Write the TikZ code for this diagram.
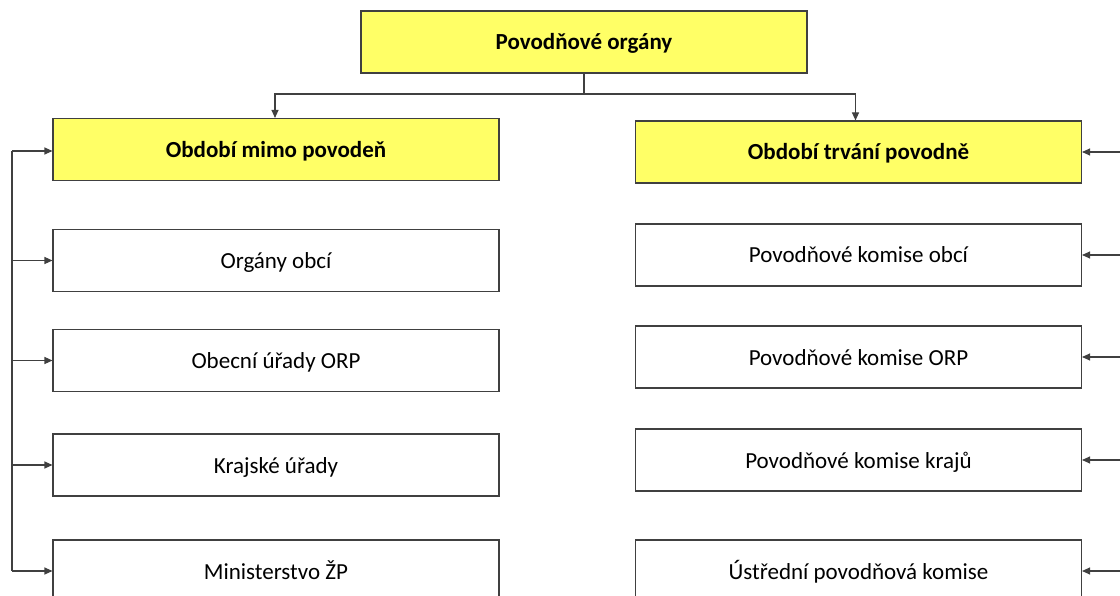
\documentclass[tikz,border=0pt]{standalone}
\usepackage{fontspec}
\setmainfont{Carlito}
\usetikzlibrary{arrows.meta,calc}
\definecolor{boxyellow}{HTML}{FFFF66}
\definecolor{edgegray}{HTML}{404040}
\tikzset{
  x=1pt, y=1pt,
  box/.style={draw=edgegray, line width=1.1pt, minimum width=446pt, minimum height=62pt, inner sep=0pt, text height=19pt, text depth=3pt, font=\fontsize{23}{26}\selectfont, fill=white},
  ybox/.style={box, fill=boxyellow, font=\fontsize{23}{26}\selectfont\bfseries},
  conn/.style={draw=edgegray, line width=1.1pt},
  arr/.style={conn, -{Triangle[length=8pt,width=7pt]}}
}
\begin{document}
\begin{tikzpicture}
\useasboundingbox (0,0) rectangle (1120,-596);
\begin{scope}
\clip (0,0) rectangle (1120,-596);
\node[ybox] (top) at (584,-42) {Povodňové orgány};
\node[ybox] (lY) at (276,-149.5) {Období mimo povodeň};
\node[box] (l1) at (276,-260.5) {Orgány obcí};
\node[box] (l2) at (276,-360.5) {Obecní úřady ORP};
\node[box] (l3) at (276,-465) {Krajské úřady};
\node[box] (l4) at (276,-571) {Ministerstvo ŽP};
\node[ybox] (rY) at (858.5,-152) {Období trvání povodně};
\node[box] (r1) at (858.5,-255) {Povodňové komise obcí};
\node[box] (r2) at (858.5,-357) {Povodňové komise ORP};
\node[box] (r3) at (858.5,-460) {Povodňové komise krajů};
\node[box] (r4) at (858.5,-571) {Ústřední povodňová komise};

\coordinate (split) at (584,-94);
\draw[conn] (top.south) -- (split);
\draw[arr] (split) -| ($(lY.north)+(-1,0)$);
\draw[arr] (split) -| ($(rY.north)+(-3,0)$);

\coordinate (lt) at (12,-151);
\coordinate (lb) at (12,-571);
\draw[conn] (lt) -- (lb);
\draw[arr] (lt) -- (lt -| lY.west);
\foreach \n in {l1,l2,l3,l4}{
  \draw[arr] (\n.west -| lt) -- (\n.west);
}
\coordinate (rx) at (1121,0);
\foreach \n in {rY,r1,r2,r3,r4}{
  \draw[arr] (\n.east -| rx) -- (\n.east);
}
\end{scope}
\end{tikzpicture}
\end{document}
